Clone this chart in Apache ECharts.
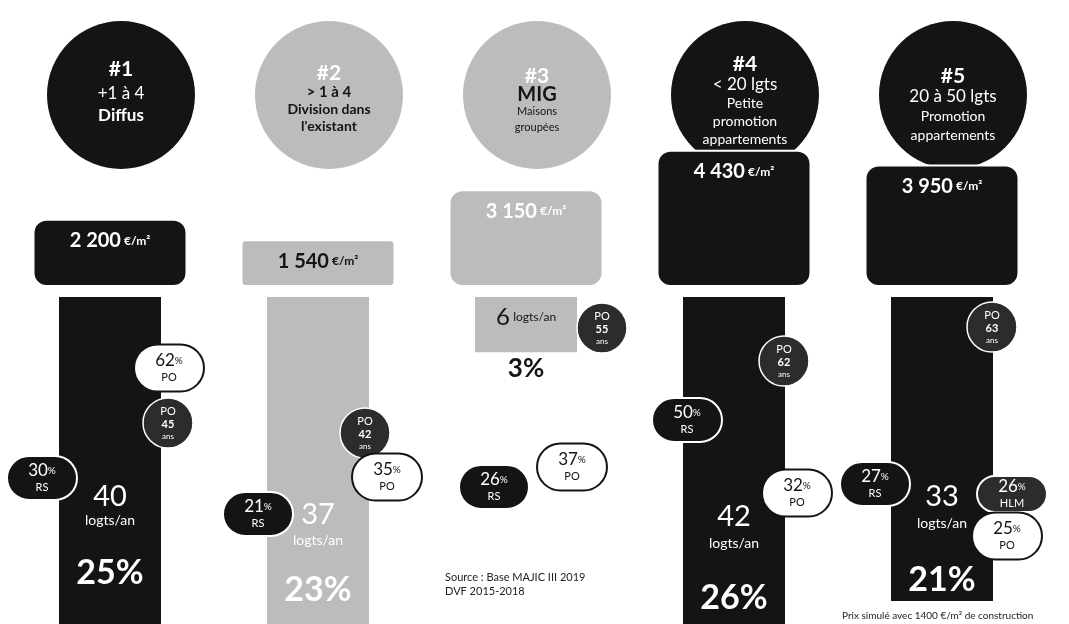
<!DOCTYPE html>
<html><head><meta charset="utf-8">
<script src="https://cdn.jsdelivr.net/npm/echarts@6/dist/echarts.min.js"></script>
<style>html,body{margin:0;padding:0;background:#fff}#c{width:1069px;height:624px}</style>
</head><body><div id="c"></div>
<script>
// ---------------- DATA ----------------
const categories = ['#1', '#2', '#3', '#4', '#5'];
const segmentRange = ['+1 à 4', '> 1 à 4', 'MIG', '< 20 lgts', '20 à 50 lgts'];
const segmentName = ['Diffus', "Division dans\nl'existant", 'Maisons\ngroupées', 'Petite\npromotion\nappartements', 'Promotion\nappartements'];
const pricePerM2 = [2200, 1540, 3150, 4430, 3950];
const logtsPerYear = [40, 37, 6, 42, 33];
const shareOfTotal = [25, 23, 3, 26, 21];
const rsShare = [30, 21, 26, 50, 27];
const poShare = [62, 35, 37, 32, 25];
const hlmShare = [null, null, null, null, 26];
const poAge = [45, 42, 55, 62, 63];
const sourceText = 'Source : Base MAJIC III 2019\nDVF 2015-2018';
const footnote = 'Prix simulé avec 1400 €/m² de construction';

// ---------------- STYLE / LAYOUT ----------------
const DARK = '#141414', GREY = '#bcbcbc', WHITE = '#ffffff', AGE = '#2c2c2c';
const FONT = 'Lato, "Open Sans", sans-serif';
const tone = ['dark', 'grey', 'grey', 'dark', 'dark'];
const fillOf = t => t === 'dark' ? DARK : GREY;
const priceLabelColor = [WHITE, DARK, WHITE, WHITE, WHITE];
const CIRCLE = { cy: 95, r: 74, dx: 11 };
const circleTextDy = [-3, 4, 6, 6, 10];
const circleStyle = [
  { t: 21, r: 17, d: 17, dw: '700', rw: '400', lh: 23 },
  { t: 21, r: 15, d: 14, dw: '700', rw: '700', lh: 18 },
  { t: 21, r: 20, d: 11, dw: '400', rw: '700', lh: 17 },
  { t: 21, r: 17, d: 14, dw: '400', rw: '400', lh: 19 },
  { t: 21, r: 17, d: 14, dw: '400', rw: '400', lh: 20 }
];
// offsets: [dx from column centre, dy from bar top]
const badgeLayout = [
  { po: [59, 71], age: [58, 126], rs: [-68, 181] },
  { po: [69, 180], age: [47, 136], rs: [-60, 217] },
  { po: [46, 170], age: [76, 31], rs: [-32, 190] },
  { po: [63, 196], age: [50, 64], rs: [-47, 123] },
  { po: [65, 239], age: [50, 30], rs: [-67, 187], hlm: [70, 197] }
];
const inBarLayout = [[200, 223, 276], [218, 243, 293], null, [220, 246, 301], [200, 226, 283]];

const fmt = v => String(v).replace(/\B(?=(\d{3})+(?!\d))/g, ' ');

function txt(x, y, s, size, weight, color) {
  return { type: 'text', style: { x, y, text: s, fontSize: size, fontWeight: weight, fontFamily: FONT, fill: color, align: 'center', verticalAlign: 'middle' } };
}
function pill(cx, cy, w, h, fill, stroke, color, num, label) {
  return [
    { type: 'rect', shape: { x: cx - w / 2, y: cy - h / 2, width: w, height: h, r: h / 2 }, style: { fill, stroke, lineWidth: 2 } },
    { type: 'text', style: { x: cx, y: cy, align: 'center', verticalAlign: 'middle', fill: color,
      text: '{n|' + num + '}{p|%}\n{l|' + label + '}',
      rich: { n: { fontSize: 17, fontFamily: FONT, fill: color, lineHeight: 19 },
              p: { fontSize: 10, fontFamily: FONT, fill: color, lineHeight: 19 },
              l: { fontSize: 11, fontFamily: FONT, fill: color, lineHeight: 14 } } } }
  ];
}
function ageBadge(cx, cy, age) {
  return [
    { type: 'circle', shape: { cx, cy, r: 25 }, style: { fill: AGE, stroke: WHITE, lineWidth: 1.5 } },
    { type: 'text', style: { x: cx, y: cy, align: 'center', verticalAlign: 'middle', fill: WHITE,
      text: '{a|PO}\n{b|' + age + '}\n{c|ans}',
      rich: { a: { fontSize: 11, fontFamily: FONT, fill: WHITE, lineHeight: 13 },
              b: { fontSize: 11, fontWeight: '700', fontFamily: FONT, fill: WHITE, lineHeight: 13 },
              c: { fontSize: 8, fontFamily: FONT, fill: WHITE, lineHeight: 11 } } } }
  ];
}

function renderCircle(params, api) {
  const i = params.dataIndex;
  const x = api.coord([i, 0])[0] + CIRCLE.dx;
  const y = CIRCLE.cy;
  const st = circleStyle[i];
  const dark = tone[i] === 'dark';
  const main = dark ? WHITE : DARK;
  const titleCol = WHITE;
  const desc = segmentName[i].split('\n').map(l => '{d|' + l + '}').join('\n');
  return { type: 'group', children: [
    { type: 'circle', shape: { cx: x, cy: y, r: CIRCLE.r }, style: { fill: fillOf(tone[i]) } },
    { type: 'text', style: { x, y: y + circleTextDy[i], align: 'center', verticalAlign: 'middle',
      text: '{t|' + categories[i] + '}\n{r|' + segmentRange[i] + '}\n' + desc,
      rich: { t: { fontSize: st.t, fontWeight: '700', fontFamily: FONT, fill: titleCol, lineHeight: st.lh + 2 },
              r: { fontSize: st.r, fontWeight: st.rw, fontFamily: FONT, fill: main, lineHeight: st.lh },
              d: { fontSize: st.d, fontWeight: st.dw, fontFamily: FONT, fill: main, lineHeight: st.lh - 1 } } } }
  ] };
}

function renderColumn(params, api) {
  const i = params.dataIndex;
  const p0 = api.coord([i, 0]);
  const p1 = api.coord([i, api.value(1)]);
  const cx = p0[0], ty = p0[1], by = p1[1];
  const L = badgeLayout[i];
  let ch = [];
  if (inBarLayout[i]) {
    const [a, b, c] = inBarLayout[i];
    ch.push(txt(cx, ty + a, String(logtsPerYear[i]), 29, '400', WHITE));
    ch.push(txt(cx, ty + b, 'logts/an', 14, '400', WHITE));
    ch.push(txt(cx, ty + c, shareOfTotal[i] + '%', 34, '700', WHITE));
  } else {
    ch.push({ type: 'text', style: { x: cx, y: ty + 20, align: 'center', verticalAlign: 'middle', fill: DARK,
      text: '{a|' + logtsPerYear[i] + '} {b|logts/an}',
      rich: { a: { fontSize: 24, fontFamily: FONT, fill: DARK }, b: { fontSize: 12, fontFamily: FONT, fill: DARK } } } });
    ch.push(txt(cx, by + 16, shareOfTotal[i] + '%', 26, '700', DARK));
  }
  ch = ch.concat(ageBadge(cx + L.age[0], ty + L.age[1], poAge[i]));
  ch = ch.concat(pill(cx + L.rs[0], ty + L.rs[1], 70, 44, DARK, WHITE, WHITE, rsShare[i], 'RS'));
  if (L.hlm && hlmShare[i] != null) {
    ch = ch.concat(pill(cx + L.hlm[0], ty + L.hlm[1], 70, 36, AGE, WHITE, WHITE, hlmShare[i], 'HLM'));
  }
  ch = ch.concat(pill(cx + L.po[0], ty + L.po[1], 70, 47, WHITE, DARK, DARK, poShare[i], 'PO'));
  return { type: 'group', children: ch };
}

const chart = echarts.init(document.getElementById('c'), null, { renderer: 'canvas' });
chart.setOption({
  animation: false,
  backgroundColor: '#fff',
  grid: [
    { left: 6, width: 1040, top: 132, height: 155, outerBoundsMode: 'none', containLabel: false },
    { left: 6, width: 1040, top: 297, height: 396, outerBoundsMode: 'none', containLabel: false }
  ],
  xAxis: [
    { type: 'category', data: categories, gridIndex: 0, show: false },
    { type: 'category', data: categories, gridIndex: 1, show: false }
  ],
  yAxis: [
    { type: 'value', gridIndex: 0, min: 0, max: 5000, show: false },
    { type: 'value', gridIndex: 1, min: 0, max: 43, inverse: true, show: false }
  ],
  series: [
    { type: 'custom', xAxisIndex: 0, yAxisIndex: 0, z: 1, clip: false,
      data: categories.map((c, i) => [i, pricePerM2[i]]), renderItem: renderCircle },
    { type: 'bar', xAxisIndex: 0, yAxisIndex: 0, z: 2, barWidth: 155,
      data: pricePerM2.map((v, i) => ({ value: v,
        itemStyle: { color: fillOf(tone[i]), borderColor: WHITE, borderWidth: 2, borderRadius: i === 1 ? 4 : 13 },
        label: { color: priceLabelColor[i] } })),
      label: { show: true, position: 'insideTop', distance: 12, fontFamily: FONT,
        formatter: p => '{v|' + fmt(p.value) + '} {u|€/m²}',
        rich: { v: { fontSize: 20, fontWeight: '700', fontFamily: FONT }, u: { fontSize: 12, fontWeight: '700', fontFamily: FONT } } } },
    { type: 'bar', xAxisIndex: 1, yAxisIndex: 1, z: 2, barWidth: 102,
      data: logtsPerYear.map((v, i) => ({ value: v, itemStyle: { color: fillOf(tone[i]) } })) },
    { type: 'custom', xAxisIndex: 1, yAxisIndex: 1, z: 5, clip: false,
      data: categories.map((c, i) => [i, logtsPerYear[i]]), renderItem: renderColumn }
  ],
  graphic: [
    { type: 'text', left: 445, top: 570, style: { text: sourceText, fontSize: 11, fontFamily: FONT, fill: '#222', lineHeight: 14 } },
    { type: 'text', left: 842, top: 611, style: { text: footnote, fontSize: 10, fontFamily: FONT, fill: '#222' } }
  ]
});
</script></body></html>
